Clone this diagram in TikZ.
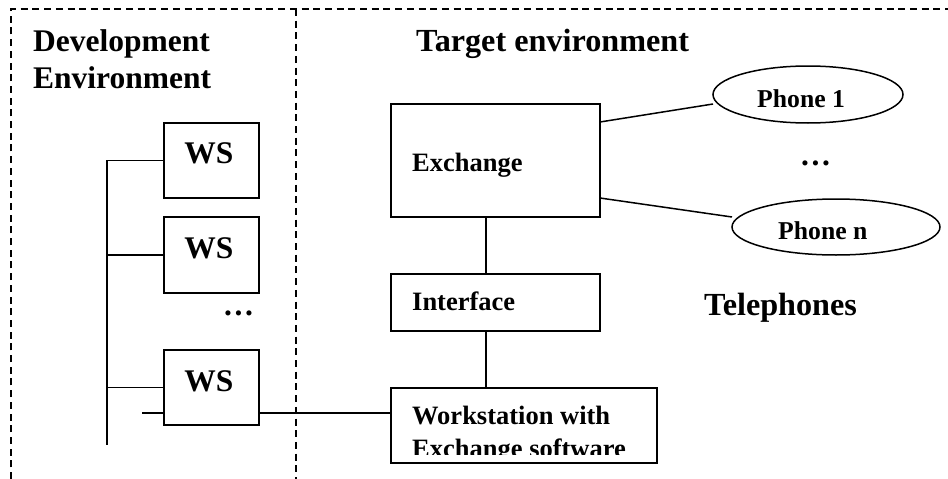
\documentclass[tikz,border=0pt]{standalone}
\usepackage{fontspec}
\setmainfont{Liberation Serif}
\usetikzlibrary{shapes.geometric}
\tikzset{
  box/.style={draw=black,line width=1.5pt,rectangle,inner sep=0pt,minimum width=#1},
  oval/.style={draw=black,line width=1.5pt,ellipse,inner sep=0pt},
  wire/.style={draw=black,line width=1.5pt},
  frame/.style={draw=black,line width=1.3pt,dash pattern=on 7pt off 4.7pt},
  big/.style={anchor=base west,inner sep=0pt,font=\fontsize{31.5}{31.5}\selectfont\bfseries},
  bigger/.style={anchor=base west,inner sep=0pt,font=\fontsize{32.2}{32.2}\selectfont\bfseries},
  small/.style={anchor=base west,inner sep=0pt,font=\fontsize{26.5}{26.5}\selectfont\bfseries},
  phone/.style={anchor=base west,inner sep=0pt,font=\fontsize{25.7}{25.7}\selectfont\bfseries}
}
\begin{document}
\begin{tikzpicture}[x=1pt,y=-1pt]
\useasboundingbox (0,0) rectangle (948,479);
% frame
\coordinate (fbl) at (11,479);
\coordinate (ftl) at (11,9);
\coordinate (ftr) at (948,9);
\coordinate (dt) at (296,9);
\coordinate (db) at (296,479);
\draw[frame] (fbl) -- (ftl) -- (ftr);
\draw[frame] (dt) -- (db);
% boxes
\node[box=95pt,minimum height=75pt] (ws1) at (211.5,160.5) {};
\node[box=95pt,minimum height=76pt] (ws2) at (211.5,255) {};
\node[box=95pt,minimum height=75pt] (ws3) at (211.5,387.5) {};
\node[box=209pt,minimum height=113pt] (exch) at (495.5,160.5) {};
\node[box=209pt,minimum height=57pt] (intf) at (495.5,302.5) {};
\node[box=266pt,minimum height=75pt] (wkst) at (524,425.5) {};
\node[oval,minimum width=190pt,minimum height=57pt] (ph1) at (808,94.5) {};
\node[oval,minimum width=208pt,minimum height=56pt] (phn) at (836,227) {};
% labels
\node[big] (tdev) at (33,51) {Development};
\node[big] (tenv) at (33,88) {Environment};
\node[bigger] (ttar) at (416,51) {Target environment};
\node[big,anchor=base] (lws1) at (209,163) {WS};
\node[big,anchor=base] (lws2) at (209,258) {WS};
\node[big,anchor=base] (lws3) at (209,391) {WS};
\node[big] (dots1) at (224,315) {.\kern2.6pt.\kern2.6pt.};
\node[small] (lexch) at (412,171) {Exchange};
\node[small] (lintf) at (412,310) {Interface};
\node[small] (lwk) at (412,424) {Workstation with};
\begin{scope}
\clip (395,430) rectangle (655,454);
\node[small] (lsw) at (412,457) {Exchange software};
\end{scope}
\node[phone] (lph1) at (757,107) {Phone 1};
\node[phone] (lphn) at (778,239) {Phone n};
\node[big] (dots2) at (801,165) {.\kern2.6pt.\kern2.6pt.};
\node[bigger] (ttel) at (704,315) {Telephones};
% connectors
\coordinate (bust) at (107,160.5);
\coordinate (busb) at (107,445);
\coordinate (stub) at (142,413);
\coordinate (lnk) at (486,0);
\coordinate (e1) at (600,122);
\coordinate (p1) at (713,104);
\coordinate (e2) at (600,198);
\coordinate (p2) at (732,217);
\draw[wire] (ws1.west) -- (bust) -- (busb);
\draw[wire] (ws2.west) -- (ws2.west -| bust);
\draw[wire] (ws3.west) -- (ws3.west -| bust);
\draw[wire] (stub) -- (stub -| ws3.west);
\draw[wire] (stub -| ws3.east) -- (stub -| wkst.west);
\draw[wire] (exch.south -| lnk) -- (intf.north -| lnk);
\draw[wire] (intf.south -| lnk) -- (wkst.north -| lnk);
\draw[wire] (e1) -- (p1);
\draw[wire] (e2) -- (p2);
\end{tikzpicture}
\end{document}
